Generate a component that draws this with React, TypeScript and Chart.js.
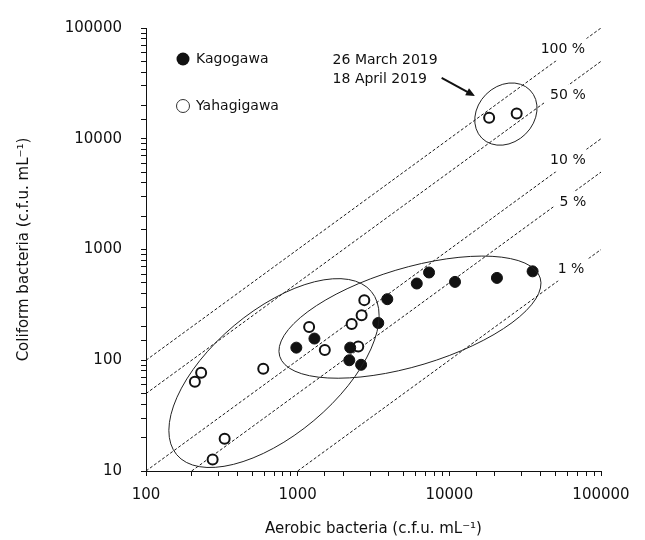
import React, { useEffect, useRef } from 'react';
import { Chart, registerables } from 'chart.js';

Chart.register(...registerables);

// ---- data ----
const kagogawaX = [980, 1290, 2220, 2190, 2620, 3400, 3900, 6100, 7350, 10900, 20600, 35400];
const kagogawaY = [130, 157, 130, 100, 91, 217, 356, 493, 620, 510, 554, 635];
const yahagigawaX = [1190, 1510, 2270, 2640, 2750, 2510, 593, 231, 210, 330, 275, 18300, 27800];
const yahagigawaY = [200, 124, 212, 255, 349, 133, 84, 77, 64, 19.6, 12.7, 15450, 16900];

const ratioValues = [1, 0.5, 0.1, 0.05, 0.01];
const ratioLabels = ['100 %', '50 %', '10 %', '5 %', '1 %'];
const ratioLabelX = [56100, 60500, 60500, 65300, 63400];
const ratioLabelY = [63800, 24400, 6350, 2670, 658];

const xTickLabels = ['100', '1000', '10000', '100000'];
const yTickLabels = ['10', '100', '1000', '10000', '100000'];

const X_MIN = 100;
const X_MAX = 100000;
const Y_MIN = 10;
const Y_MAX = 100000;

// annotation anchors (data space)
const ellipseCx = [23600, 698, 5500];
const ellipseCy = [16700, 76.6, 245];
const noteLines = ['26 March 2019', '18 April 2019'];
const noteX = 1700;
const noteY = [50700, 34100];
const arrowFrom = { x: 8900, y: 35500 };
const arrowTo = { x: 14760, y: 24300 };

const FONT = '"DejaVu Sans", Verdana, sans-serif';
const INK = '#111';

const ellipseStyle = [
  { a: 34, b: 28, angle: 45 },
  { a: 127, b: 62, angle: 40 },
  { a: 136, b: 49, angle: 16.7 },
];

const annotationsPlugin = {
  id: 'annotations',
  afterDatasetsDraw(chart: any) {
    const { ctx, chartArea } = chart;
    const xs = chart.scales.x;
    const ys = chart.scales.y;
    ctx.save();

    // ratio labels with white background (gaps in dashed lines)
    ctx.font = `14px ${FONT}`;
    ctx.textAlign = 'center';
    ctx.textBaseline = 'middle';
    ratioLabels.forEach((lab, i) => {
      const px = xs.getPixelForValue(ratioLabelX[i]);
      const py = ys.getPixelForValue(ratioLabelY[i]);
      const w = ctx.measureText(lab).width;
      ctx.fillStyle = '#fff';
      ctx.fillRect(px - w / 2 - 6, py - 11, w + 12, 22);
      ctx.fillStyle = INK;
      ctx.fillText(lab, px, py);
    });

    // ellipses
    ctx.strokeStyle = '#222';
    ctx.lineWidth = 1;
    ellipseCx.forEach((cx, i) => {
      const px = xs.getPixelForValue(cx);
      const py = ys.getPixelForValue(ellipseCy[i]);
      const e = ellipseStyle[i];
      ctx.beginPath();
      ctx.ellipse(px, py, e.a, e.b, (-e.angle * Math.PI) / 180, 0, Math.PI * 2);
      ctx.stroke();
    });

    // note text
    ctx.fillStyle = INK;
    ctx.textAlign = 'left';
    ctx.textBaseline = 'middle';
    noteLines.forEach((t, i) => {
      ctx.fillText(t, xs.getPixelForValue(noteX), ys.getPixelForValue(noteY[i]));
    });

    // arrow
    const x1 = xs.getPixelForValue(arrowFrom.x);
    const y1 = ys.getPixelForValue(arrowFrom.y);
    const x2 = xs.getPixelForValue(arrowTo.x);
    const y2 = ys.getPixelForValue(arrowTo.y);
    const ang = Math.atan2(y2 - y1, x2 - x1);
    const headLen = 9;
    const headW = 4;
    ctx.strokeStyle = INK;
    ctx.lineWidth = 2;
    ctx.beginPath();
    ctx.moveTo(x1, y1);
    ctx.lineTo(x2 - Math.cos(ang) * headLen * 0.8, y2 - Math.sin(ang) * headLen * 0.8);
    ctx.stroke();
    ctx.beginPath();
    ctx.moveTo(x2, y2);
    ctx.lineTo(
      x2 - Math.cos(ang) * headLen + Math.sin(ang) * headW,
      y2 - Math.sin(ang) * headLen - Math.cos(ang) * headW
    );
    ctx.lineTo(
      x2 - Math.cos(ang) * headLen - Math.sin(ang) * headW,
      y2 - Math.sin(ang) * headLen + Math.cos(ang) * headW
    );
    ctx.closePath();
    ctx.fill();

    // legend
    const lx = chartArea.left + 37;
    const ly = [chartArea.top + 31, chartArea.top + 78];
    const pointSets = chart.data.datasets.filter((d: any) => d.isPointSet);
    pointSets.forEach((d: any, i: number) => {
      ctx.beginPath();
      ctx.arc(lx, ly[i], 6.5, 0, Math.PI * 2);
      if (d.filled) {
        ctx.fillStyle = INK;
        ctx.fill();
      } else {
        ctx.fillStyle = '#fff';
        ctx.fill();
        ctx.strokeStyle = '#333';
        ctx.lineWidth = 1;
        ctx.stroke();
      }
      ctx.fillStyle = INK;
      ctx.font = `14px ${FONT}`;
      ctx.textAlign = 'left';
      ctx.textBaseline = 'middle';
      ctx.fillText(d.label, lx + 13, ly[i]);
    });

    ctx.restore();
  },
};

function isDecade(v: number) {
  const l = Math.log10(v);
  return Math.abs(l - Math.round(l)) < 1e-9;
}

export default function App() {
  const ref = useRef<HTMLCanvasElement | null>(null);

  useEffect(() => {
    if (!ref.current) return;

    const ratioSets = ratioValues.map((r) => {
      const x0 = Math.max(X_MIN, Y_MIN / r);
      return {
        label: `${r * 100} %`,
        data: [
          { x: x0, y: r * x0 },
          { x: X_MAX, y: r * X_MAX },
        ],
        showLine: true,
        borderColor: '#1a1a1a',
        borderWidth: 1,
        borderDash: [3, 2],
        pointRadius: 0,
        fill: false,
        order: 5,
      };
    });

    const chart = new Chart(ref.current, {
      type: 'scatter',
      data: {
        datasets: [
          {
            label: 'Kagogawa',
            isPointSet: true,
            filled: true,
            data: kagogawaX.map((x, i) => ({ x, y: kagogawaY[i] })),
            pointRadius: 5.5,
            pointBackgroundColor: INK,
            pointBorderColor: INK,
            pointBorderWidth: 1,
            order: 0,
          } as any,
          {
            label: 'Yahagigawa',
            isPointSet: true,
            filled: false,
            data: yahagigawaX.map((x, i) => ({ x, y: yahagigawaY[i] })),
            pointRadius: 5,
            pointBackgroundColor: '#fff',
            pointBorderColor: INK,
            pointBorderWidth: 2,
            order: 0,
          } as any,
          ...ratioSets,
        ],
      },
      options: {
        animation: false,
        responsive: true,
        maintainAspectRatio: false,
        layout: { padding: { left: 0, right: 44, top: 20, bottom: 0 } },
        plugins: {
          legend: { display: false },
          tooltip: { enabled: false },
        },
        scales: {
          x: {
            type: 'logarithmic',
            min: X_MIN,
            max: X_MAX,
            afterFit: (s: any) => {
              s.height = 69;
            },
            grid: {
              drawOnChartArea: false,
              drawTicks: true,
              tickLength: 5,
              color: INK,
            },
            border: { display: true, color: INK, width: 1 },
            ticks: {
              autoSkip: false,
              maxRotation: 0,
              padding: 10,
              color: INK,
              font: { family: FONT, size: 15 },
              callback: (v: any) => {
                const n = Number(v);
                if (!isDecade(n)) return '';
                const idx = Math.round(Math.log10(n)) - 2;
                return xTickLabels[idx] ?? '';
              },
            },
            title: {
              display: true,
              text: 'Aerobic bacteria (c.f.u. mL⁻¹)',
              color: INK,
              font: { family: FONT, size: 15 },
              padding: { top: 0, bottom: 2 },
            },
          },
          y: {
            type: 'logarithmic',
            min: Y_MIN,
            max: Y_MAX,
            afterFit: (s: any) => {
              s.width = 146;
            },
            grid: {
              drawOnChartArea: false,
              drawTicks: true,
              tickLength: 5,
              color: INK,
            },
            border: { display: true, color: INK, width: 1 },
            ticks: {
              autoSkip: false,
              padding: 19,
              color: INK,
              font: { family: FONT, size: 15 },
              callback: (v: any) => {
                const n = Number(v);
                if (!isDecade(n)) return '';
                const idx = Math.round(Math.log10(n)) - 1;
                return yTickLabels[idx] ?? '';
              },
            },
            title: {
              display: true,
              text: 'Coliform bacteria (c.f.u. mL⁻¹)',
              color: INK,
              font: { family: FONT, size: 15 },
              padding: { top: 15, bottom: 0 },
            },
          },
        },
      },
      plugins: [annotationsPlugin],
    } as any);

    return () => chart.destroy();
  }, []);

  return (
    <div style={{ position: 'fixed', left: 0, top: 0, width: 645, height: 540, background: '#fff' }}>
      <canvas ref={ref} />
    </div>
  );
}
